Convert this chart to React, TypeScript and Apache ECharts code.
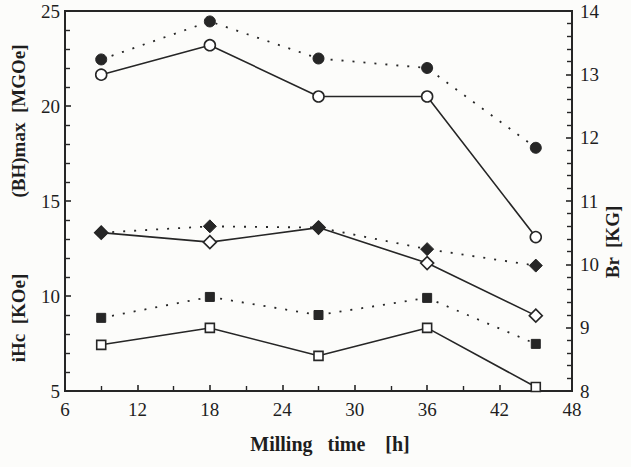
import React, { useEffect, useRef } from "react";
import * as echarts from "echarts";

const millingTime = [9, 18, 27, 36, 45];
const bhMaxFilled = [22.45, 24.45, 22.5, 22.0, 17.8];
const bhMaxOpen = [21.65, 23.2, 20.5, 20.5, 13.1];
const brFilled = [10.5, 10.6, 10.58, 10.24, 9.98];
const brOpen = [10.5, 10.35, 10.58, 10.02, 9.19];
const ihcFilled = [8.85, 9.95, 9.0, 9.9, 7.48];
const ihcOpen = [7.43, 8.32, 6.85, 8.32, 5.21];

const INK = "#262626";
const FONT = "'Liberation Serif', 'DejaVu Serif', serif";

const pairs = (vals: number[]) => millingTime.map((x, i) => [x, vals[i]]);

export default function App() {
  const ref = useRef<HTMLDivElement>(null);
  useEffect(() => {
    document.body.style.margin = "0";
    if (!ref.current) return;
    const chart = echarts.init(ref.current, undefined, { renderer: "svg" });
    const dotted = { color: INK, width: 1.8, type: [2, 9] as any };
    const solid = { color: INK, width: 1.6, type: "solid" as any };
    const filled = { color: INK, borderColor: INK, borderWidth: 1 };
    const open = { color: "#ffffff", borderColor: INK, borderWidth: 1.6 };
    const mk = (name: string, data: number[], yIdx: number, symbol: string, size: number, line: any, item: any) => ({
      name,
      type: "line",
      yAxisIndex: yIdx,
      data: pairs(data),
      symbol,
      symbolSize: size,
      showSymbol: true,
      lineStyle: line,
      itemStyle: item,
      z: item.color === "#ffffff" ? 3 : 4,
    });
    const axisCommon = {
      axisLine: { show: true, lineStyle: { color: INK, width: 2 } },
      axisTick: { show: true, inside: true, length: 6, lineStyle: { color: INK, width: 1.6 } },
      minorTick: { show: true, length: 5, lineStyle: { color: INK, width: 1.4 } },
      splitLine: { show: false },
      axisLabel: { color: "#1e1e1e", fontFamily: FONT, fontSize: 19 },
    };
    chart.setOption({
      animation: false,
      backgroundColor: "#fcfcfa",
      grid: { left: 65, right: 59, top: 11, bottom: 76, show: true, borderColor: INK, borderWidth: 2, backgroundColor: "transparent" },
      xAxis: {
        type: "value",
        min: 6,
        max: 48,
        interval: 6,
        ...axisCommon,
        minorTick: { ...axisCommon.minorTick, splitNumber: 2 },
        axisLabel: { ...axisCommon.axisLabel, margin: 9 },
      },
      yAxis: [
        {
          type: "value",
          min: 5,
          max: 25,
          interval: 5,
          position: "left",
          ...axisCommon,
          minorTick: { ...axisCommon.minorTick, splitNumber: 5 },
          axisLabel: { ...axisCommon.axisLabel, margin: 5 },
        },
        {
          type: "value",
          min: 8,
          max: 14,
          interval: 1,
          position: "right",
          ...axisCommon,
          minorTick: { ...axisCommon.minorTick, splitNumber: 5 },
          axisLabel: { ...axisCommon.axisLabel, margin: 8 },
        },
      ],
      series: [
        mk("BHmax filled", bhMaxFilled, 0, "circle", 11, dotted, filled),
        mk("BHmax open", bhMaxOpen, 0, "circle", 11, solid, open),
        mk("Br filled", brFilled, 1, "diamond", 13, dotted, filled),
        mk("Br open", brOpen, 1, "diamond", 13, solid, open),
        mk("iHc filled", ihcFilled, 0, "rect", 9, dotted, filled),
        mk("iHc open", ihcOpen, 0, "rect", 9, solid, open),
      ],
      graphic: [
        {
          type: "text",
          x: 18,
          y: 121,
          rotation: Math.PI / 2,
          style: { text: "(BH)max  [MGOe]", font: `bold 19px ${FONT}`, fill: "#1e1e1e", align: "center", verticalAlign: "middle" },
        },
        {
          type: "text",
          x: 18,
          y: 318,
          rotation: Math.PI / 2,
          style: { text: "iHc  [KOe]", font: `bold 19px ${FONT}`, fill: "#1e1e1e", align: "center", verticalAlign: "middle" },
        },
        {
          type: "text",
          x: 612,
          y: 242,
          rotation: Math.PI / 2,
          style: { text: "Br  [KG]", font: `bold 19px ${FONT}`, fill: "#1e1e1e", align: "center", verticalAlign: "middle" },
        },
        {
          type: "text",
          x: 330,
          y: 444,
          style: { text: "Milling   time    [h]", font: `bold 20px ${FONT}`, fill: "#1e1e1e", align: "center", verticalAlign: "middle" },
        },
      ],
    });
    return () => chart.dispose();
  }, []);
  return <div ref={ref} style={{ width: 631, height: 467 }} />;
}
